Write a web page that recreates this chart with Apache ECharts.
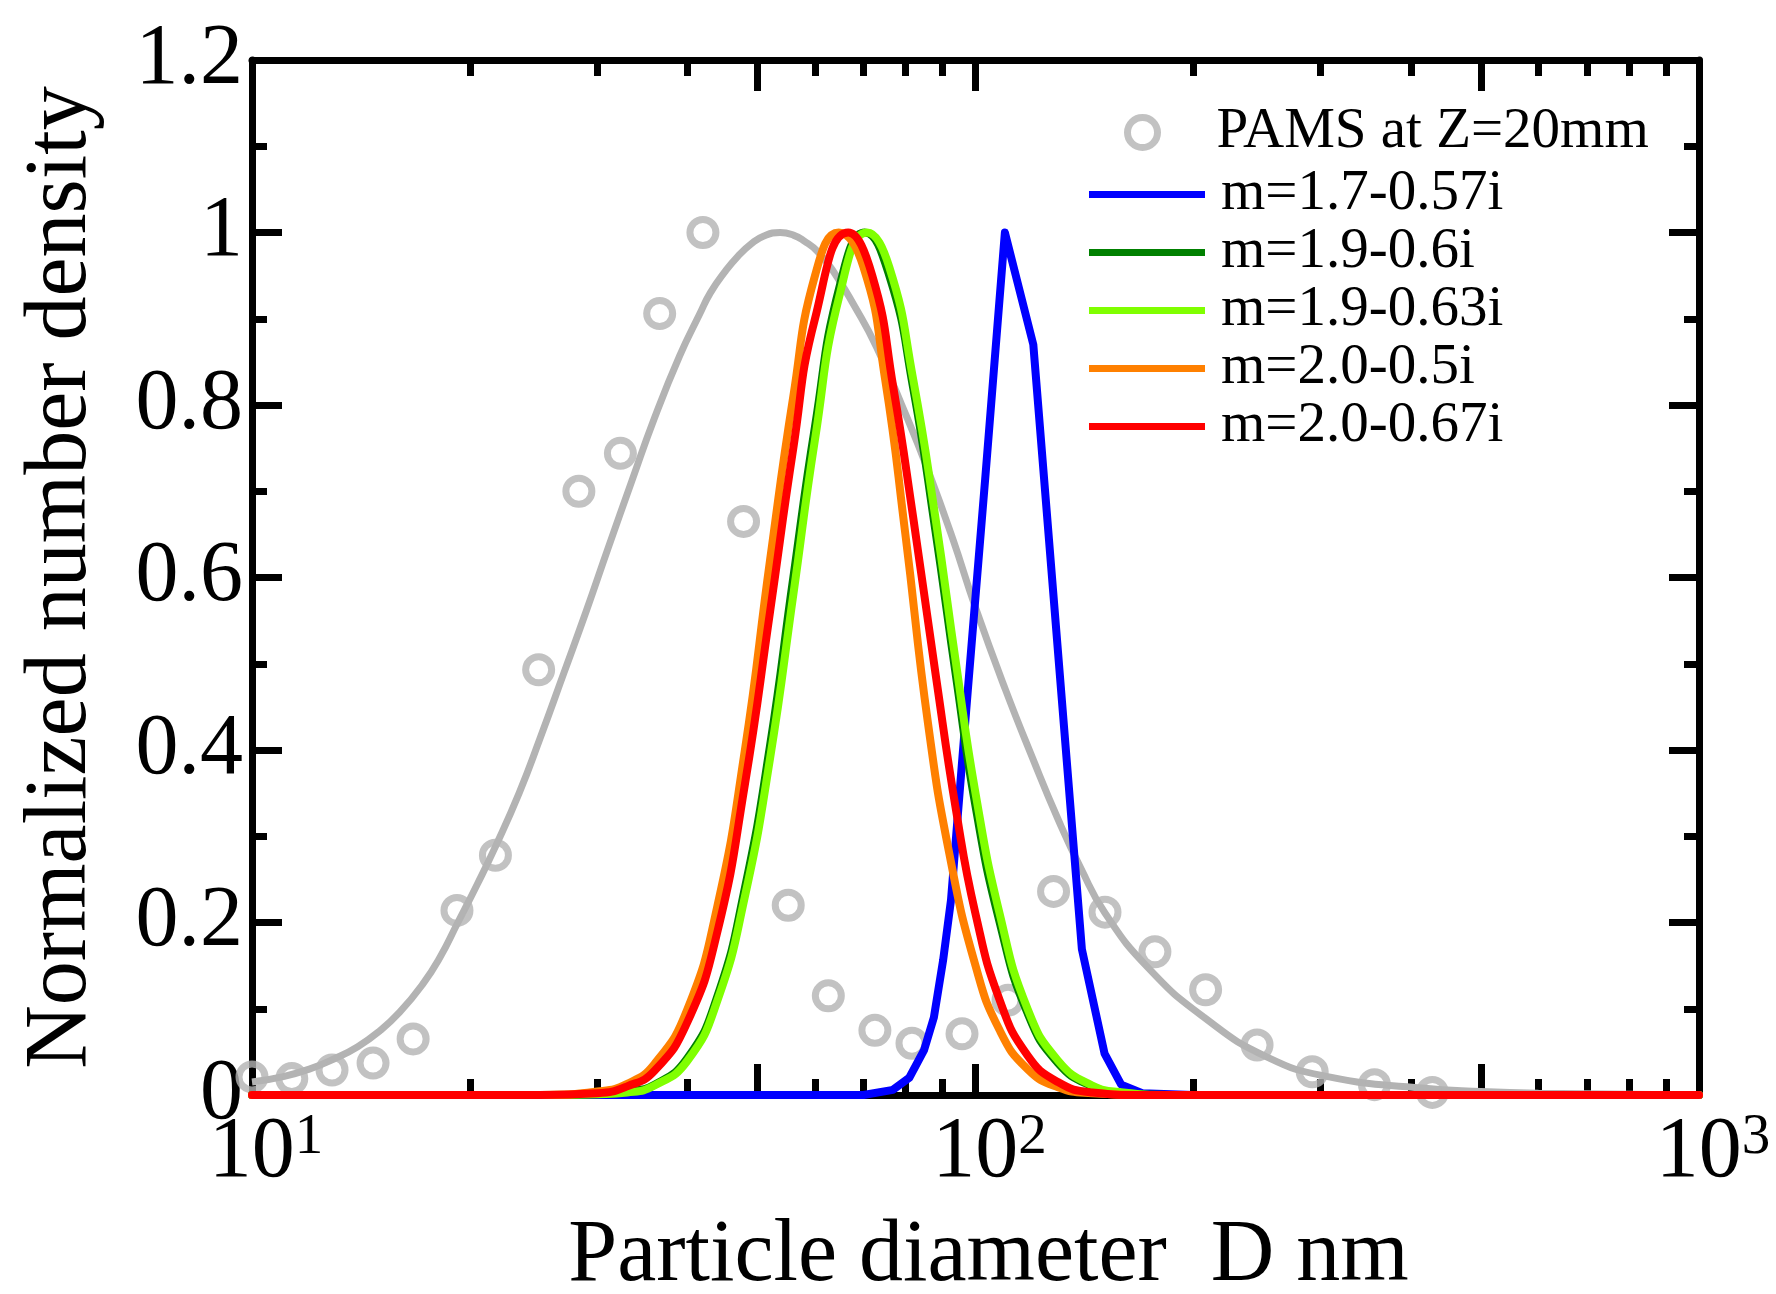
<!DOCTYPE html>
<html>
<head>
<meta charset="utf-8">
<script src="https://cdn.jsdelivr.net/npm/echarts@6/dist/echarts.min.js"></script>
<style>
html,body{margin:0;padding:0;background:#fff;}
#chart{width:1776px;height:1294px;}
</style>
</head>
<body>
<div id="chart"></div>
<script>
// ---------- data ----------
// measured PAMS points: [diameter nm, normalized density]
const pamsPoints = [
  [10.0,0.021],[11.35,0.019],[12.9,0.029],[14.7,0.037],[16.7,0.065],
  [19.2,0.214],[21.7,0.278],[24.9,0.493],[28.3,0.70],[32.3,0.744],
  [36.6,0.906],[42.0,1.0],[47.8,0.665],[55.1,0.22],[62.6,0.115],
  [72.6,0.075],[81.7,0.060],[95.8,0.071],[110.9,0.11],[128.2,0.236],
  [151,0.212],[177,0.166],[208,0.122],[245,0.058],[292,0.027],
  [356,0.012],[428,0.003]
];
// gray fit curve through the PAMS data
const pamsFit = [
  [10,0.015],[11,0.021],[12,0.030],[13,0.042],[14,0.056],[15,0.074],[16,0.096],
  [17.2,0.128],[18.2,0.160],[19.2,0.198],[20.5,0.245],[21.7,0.288],[23.4,0.35],
  [25,0.413],[27,0.49],[29,0.562],[31,0.632],[33.5,0.712],[36,0.785],[39,0.857],
  [41.6,0.906],[43,0.93],[45,0.954],[47,0.973],[49,0.987],[51,0.996],[53.7,1.0],
  [56,0.997],[58,0.99],[60.5,0.978],[63.5,0.956],[68,0.915],
  [73,0.867],[80,0.79],[86,0.724],[93,0.645],[100,0.565],[110,0.47],[120,0.39],
  [130,0.32],[140,0.262],[151,0.211],[173,0.148],[207,0.09],[253,0.044],
  [308,0.021],[414,0.008],[500,0.004],[600,0.002],[1000,0.0]
];
const blueM = [
  [10,0],[70,0],[76.9,0.006],[81,0.02],[84.9,0.052],[87.6,0.09],[90.2,0.156],
  [92.5,0.226],[97.6,0.47],[103.1,0.713],[109.8,1.0],[120.2,0.87],[140.3,0.169],
  [150.8,0.048],[159,0.012],[170,0.002],[200,0],[1000,0]
];
const greenM = [
  [10,0],[25,0],[30,0.001],[33,0.004],[36,0.012],[40,0.043],[44,0.115],[48,0.24],
  [52,0.405],[56,0.60],[60,0.775],[65,0.94],[70.3,1.0],[76,0.95],[82,0.82],
  [88,0.655],[94,0.485],[100,0.335],[108,0.20],[118,0.095],[130,0.037],
  [145,0.01],[160,0.002],[185,0],[1000,0]
];
const limeM = [
  [10,0],[25,0],[30,0.001],[33,0.003],[36,0.011],[40,0.04],[44,0.11],[48,0.23],
  [52,0.39],[56,0.58],[60,0.76],[65,0.93],[70.8,1.0],[76,0.96],[82,0.83],
  [88,0.67],[94,0.50],[100,0.35],[108,0.21],[118,0.10],[130,0.04],
  [145,0.011],[160,0.003],[185,0],[1000,0]
];
const orangeM = [
  [10,0],[25,0],[30,0.004],[33,0.013],[36,0.036],[40,0.10],[44,0.22],[48,0.40],
  [52,0.62],[56,0.81],[60,0.95],[64.7,1.0],[70,0.96],[75,0.83],[80,0.65],
  [86,0.43],[92,0.28],[100,0.15],[108,0.075],[118,0.03],[130,0.009],
  [145,0.002],[170,0],[1000,0]
];
const redM = [
  [10,0],[25,0],[30,0.002],[33,0.01],[36,0.028],[40,0.085],[44,0.19],[48,0.36],
  [52,0.56],[56,0.75],[60,0.90],[66.7,1.0],[72,0.95],[77,0.82],[82,0.67],
  [88,0.49],[94,0.33],[100,0.21],[108,0.11],[118,0.046],[130,0.015],
  [145,0.003],[170,0],[1000,0]
];
const lineNames = ['m=1.7-0.57i','m=1.9-0.6i','m=1.9-0.63i','m=2.0-0.5i','m=2.0-0.67i'];
const scatterName = 'PAMS at Z=20mm';
// axis ticks
const xTicksLong = [10,50,100,500,1000];
const xTicksShort = [20,30,40,60,70,80,90,200,300,400,600,700,800,900];
const xLabelValues = [10,100,1000];
const xLabelExponents = ['1','2','3'];
const yMin = 0, yMax = 1.2, yStep = 0.2;

// ---------- chart ----------
const FONT = '"Liberation Serif","Times New Roman",Times,serif';
const chart = echarts.init(document.getElementById('chart'), null, {renderer:'canvas'});

function xAxisDef(pos, ticks, len, withLine, withLabel){
  return {
    type:'log', logBase:10, min:10, max:1000, position:pos,
    axisLine:{show:withLine, onZero:false, lineStyle:{color:'#000', width:7}},
    axisTick:{show:true, inside:true, length:len, customValues:ticks,
              lineStyle:{color:'#000', width:7}},
    minorTick:{show:false},
    splitLine:{show:false},
    axisLabel: withLabel ? {
      show:true, customValues:xLabelValues, margin:15, interval:0,
      formatter:function(v){
        const i = xLabelValues.indexOf(Math.round(v));
        return '{sp| }{b|10}{sup|' + (i>=0 ? xLabelExponents[i] : '') + '}';
      },
      rich:{
        sp:{width:28, fontSize:56, fontFamily:FONT},
        b:{fontSize:86, fontFamily:FONT, color:'#000', lineHeight:86},
        sup:{fontSize:57, fontFamily:FONT, color:'#000', lineHeight:26, verticalAlign:'top'}
      }
    } : {show:false}
  };
}
function yAxisDef(pos, withLabel){
  return {
    type:'value', min:yMin, max:yMax, interval:yStep, position:pos,
    axisLine:{show:true, onZero:false, lineStyle:{color:'#000', width:7}},
    axisTick:{show:true, inside:true, length:30, lineStyle:{color:'#000', width:7}},
    minorTick:{show:true, splitNumber:2, length:15, lineStyle:{color:'#000', width:7}},
    splitLine:{show:false},
    axisLabel: withLabel ? {
      show:true, margin:9, fontSize:86, fontFamily:FONT, color:'#000',
      formatter:function(v){ return String(+v.toFixed(1)); }
    } : {show:false},
    name: withLabel ? 'Normalized number density' : '',
    nameLocation:'middle', nameGap:146, nameRotate:90,
    nameTextStyle:{fontSize:88, fontFamily:FONT, color:'#000'}
  };
}

const xAxes = [
  xAxisDef('bottom', xTicksLong, 31, true, true),
  xAxisDef('bottom', xTicksShort, 16, false, false),
  xAxisDef('top', xTicksLong, 31, true, false),
  xAxisDef('top', xTicksShort, 16, false, false)
];
xAxes[0].name = 'Particle diameter  D nm';
xAxes[0].nameLocation = 'middle';
xAxes[0].nameGap = 118;
xAxes[0].nameTextStyle = {fontSize:88, fontFamily:FONT, color:'#000', padding:[0,0,0,26]};

const lineColors = ['#0000ff','#008000','#80ff00','#ff8000','#ff0000'];
const lineData = [blueM, greenM, limeM, orangeM, redM];

const series = [
  {
    name:scatterName, type:'scatter', xAxisIndex:0, yAxisIndex:0,
    data:pamsPoints, symbol:'circle', symbolSize:26,
    itemStyle:{color:'rgba(0,0,0,0)', borderColor:'#b3b3b3', borderWidth:7},
    clip:false, z:2
  },
  {
    name:'fit', type:'line', xAxisIndex:0, yAxisIndex:0, data:pamsFit,
    showSymbol:false, smooth:true, clip:false,
    lineStyle:{color:'#b3b3b3', width:7}, itemStyle:{color:'#b3b3b3'}, z:2
  }
];
lineNames.forEach(function(n, i){
  series.push({
    name:n, type:'line', xAxisIndex:0, yAxisIndex:0, data:lineData[i],
    showSymbol:false, smooth: i===0 ? false : true, clip:false,
    lineStyle:{color:lineColors[i], width:8, cap:'round', join:'round'},
    itemStyle:{color:lineColors[i]}, z:3+i
  });
});

chart.setOption({
  animation:false,
  backgroundColor:'#fff',
  grid:{left:252, right:77, top:60, bottom:199, containLabel:false, outerBoundsMode:'none'},
  xAxis:xAxes,
  yAxis:[yAxisDef('left', true), yAxisDef('right', false)],
  legend:[
    {
      data:[scatterName], orient:'vertical', left:1119, top:99,
      itemWidth:116, itemHeight:30, itemGap:1, selectedMode:false,
      itemStyle:{borderWidth:7, borderColor:'#b3b3b3', color:'rgba(0,0,0,0)'},
      textStyle:{fontSize:57, fontFamily:FONT, color:'#000', lineHeight:57, padding:[0,0,0,11]}
    },
    {
      data:lineNames, orient:'vertical', left:1084, top:161,
      itemWidth:116, itemHeight:7, itemGap:1, icon:'rect', selectedMode:false,
      itemStyle:{borderWidth:0},
      textStyle:{fontSize:57, fontFamily:FONT, color:'#000', lineHeight:57, padding:[0,0,0,11]}
    }
  ],
  series:series
});
</script>
</body>
</html>
